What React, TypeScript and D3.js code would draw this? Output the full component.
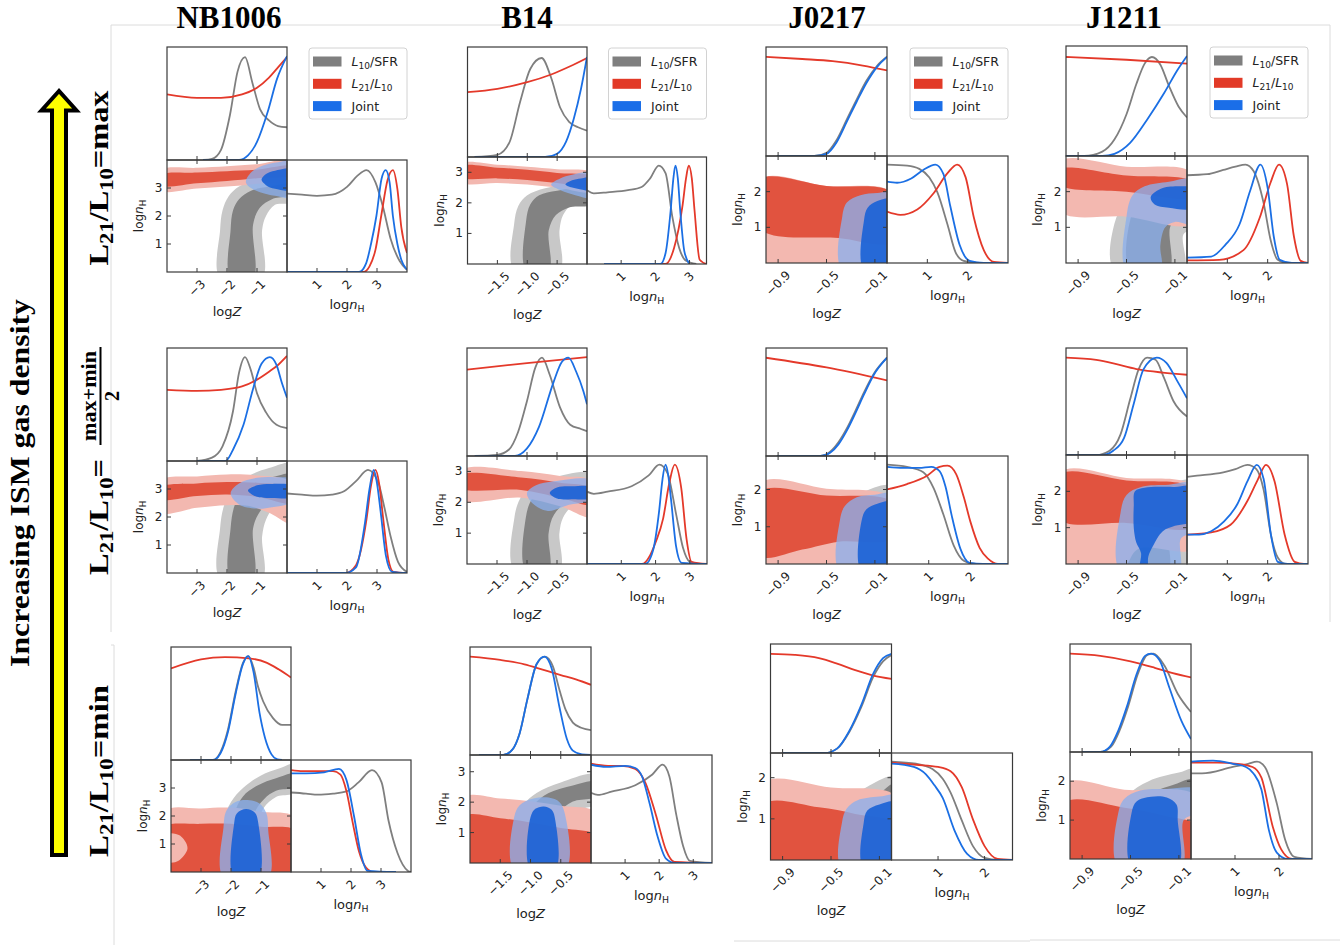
import React from 'react';
import * as d3 from 'd3';

type Pt = [number, number];
type Curves = { gray: Pt[]; red: Pt[]; blue: Pt[] };
type Regions = { gray2: Pt[]; gray1: Pt[]; red2: Pt[]; red1: Pt[]; blue2: Pt[]; blue1: Pt[] };

// ---------------- metadata ----------------
const galaxies = ['NB1006', 'B14', 'J0217', 'J1211'];
const logZDomains: Pt[] = [[-4, 0], [-2, 0], [-1, 0], [-1, 0]];
const logZTicks = [[-3, -2, -1], [-1.5, -1.0, -0.5], [-0.9, -0.5, -0.1], [-0.9, -0.5, -0.1]];
const nHTicks = [[1, 2, 3], [1, 2, 3], [1, 2], [1, 2]];
// upper lognH limit, rows (max, mid, min) x columns
const nHMax = [
  [4, 3.5, 3, 3],
  [4, 3.5, 2.9, 3],
  [4, 3.55, 2.6, 2.75],
];

// ---------------- NB1006, L21/L10 = max ----------------
const nbMaxZ: Curves = {
  gray: [[-2.8, 0], [-2.5, 0.01], [-2.2, 0.09], [-1.9, 0.4], [-1.65, 0.78], [-1.4, 0.91], [-1.15, 0.68], [-0.9, 0.45], [-0.6, 0.35], [-0.3, 0.3], [0, 0.29]],
  red: [[-4, 0.58], [-3, 0.55], [-2.2, 0.55], [-1.5, 0.58], [-1, 0.64], [-0.6, 0.73], [-0.3, 0.82], [0, 0.91]],
  blue: [[-2.8, 0], [-1.6, 0], [-1.3, 0.04], [-1.0, 0.16], [-0.65, 0.42], [-0.33, 0.72], [0, 0.92]],
};
const nbMaxN: Curves = {
  gray: [[0, 0.7], [0.5, 0.69], [1, 0.68], [1.5, 0.69], [2, 0.76], [2.35, 0.86], [2.65, 0.91], [2.95, 0.8], [3.2, 0.58], [3.45, 0.3], [3.75, 0.1], [4, 0.02]],
  red: [[0, 0], [2.55, 0], [2.75, 0.05], [2.95, 0.2], [3.14, 0.5], [3.35, 0.82], [3.53, 0.91], [3.68, 0.74], [3.81, 0.4], [4, 0.17]],
  blue: [[0, 0], [2.4, 0], [2.64, 0.08], [2.8, 0.25], [2.98, 0.5], [3.15, 0.83], [3.29, 0.91], [3.42, 0.8], [3.53, 0.5], [3.68, 0.25], [3.81, 0.11], [4, 0.02]],
};
const nbMaxC: Regions = {
  gray2: [[-2.23, -0.2], [-2.23, 1.5], [-2.15, 2.2], [-1.95, 2.7], [-1.6, 3.05], [-1.1, 3.25], [-0.5, 3.35], [0.2, 3.42], [0.2, 2.5], [-0.4, 2.4], [-0.7, 2.0], [-0.83, 1.5], [-0.83, -0.2]],
  gray1: [[-1.88, -0.2], [-1.88, 1.5], [-1.8, 2.2], [-1.6, 2.6], [-1.2, 2.9], [-0.6, 3.05], [0.2, 3.14], [0.2, 2.78], [-0.5, 2.6], [-0.9, 2.3], [-1.13, 1.7], [-1.13, -0.2]],
  red2: [[-4.2, 3.63], [-3, 3.72], [-2, 3.78], [-1, 3.85], [0.2, 3.97], [0.2, 3.3], [-1, 3.15], [-2, 3.05], [-3, 2.98], [-4.2, 2.92]],
  red1: [[-4.2, 3.46], [-3, 3.55], [-2, 3.6], [-1, 3.65], [0.2, 3.77], [0.2, 3.47], [-1, 3.35], [-2, 3.25], [-3, 3.17], [-4.2, 3.1]],
  blue2: [[-1.37, 3.2], [-1.2, 3.55], [-0.8, 3.8], [-0.3, 3.92], [0.2, 3.97], [0.2, 2.68], [-0.4, 2.72], [-0.9, 2.85], [-1.2, 3.0]],
  blue1: [[-0.85, 3.3], [-0.7, 3.5], [-0.4, 3.62], [0.2, 3.67], [0.2, 2.94], [-0.4, 2.97], [-0.7, 3.1]],
};

// ---------------- B14, max ----------------
const b14MaxZ: Curves = {
  gray: [[-1.88, 0], [-1.5, 0.02], [-1.3, 0.13], [-1.12, 0.5], [-0.95, 0.8], [-0.76, 0.9], [-0.6, 0.72], [-0.45, 0.45], [-0.3, 0.32], [-0.15, 0.27], [0, 0.24]],
  red: [[-2, 0.59], [-1.5, 0.62], [-1, 0.68], [-0.6, 0.75], [-0.3, 0.82], [0, 0.9]],
  blue: [[-1.88, 0], [-0.7, 0], [-0.5, 0.03], [-0.35, 0.14], [-0.22, 0.35], [-0.1, 0.62], [0, 0.91]],
};
const b14MaxN: Curves = {
  gray: [[0, 0.69], [0.2, 0.66], [0.6, 0.67], [1.2, 0.69], [1.6, 0.72], [1.85, 0.8], [2.1, 0.92], [2.3, 0.85], [2.5, 0.44], [2.7, 0.15], [2.9, 0.03], [3.2, 0]],
  red: [[0.5, 0], [2.3, 0], [2.55, 0.15], [2.8, 0.55], [2.9, 0.8], [2.98, 0.92], [3.07, 0.8], [3.15, 0.5], [3.3, 0.04], [3.5, 0]],
  blue: [[0.5, 0], [2.15, 0], [2.3, 0.1], [2.45, 0.5], [2.53, 0.8], [2.59, 0.92], [2.66, 0.8], [2.73, 0.5], [2.85, 0.12], [3.0, 0]],
};
const b14MaxC: Regions = {
  gray2: [[-1.22, -0.2], [-1.22, 1.3], [-1.15, 1.9], [-1.0, 2.25], [-0.7, 2.48], [-0.3, 2.6], [0.1, 2.64], [0.1, 2.12], [-0.25, 1.95], [-0.4, 1.6], [-0.46, 1.1], [-0.46, -0.2]],
  gray1: [[-1.02, -0.2], [-1.02, 1.4], [-0.95, 1.95], [-0.8, 2.25], [-0.5, 2.4], [0.1, 2.47], [0.1, 1.96], [-0.3, 1.85], [-0.52, 1.6], [-0.64, 1.1], [-0.64, -0.2]],
  red2: [[-2.1, 3.28], [-1.5, 3.25], [-1, 3.18], [-0.5, 3.1], [0.1, 2.98], [0.1, 2.38], [-0.5, 2.5], [-1, 2.6], [-1.5, 2.65], [-2.1, 2.68]],
  red1: [[-2.1, 3.19], [-1.5, 3.15], [-1, 3.08], [-0.5, 2.98], [0.1, 2.85], [0.1, 2.53], [-0.5, 2.65], [-1, 2.75], [-1.5, 2.8], [-2.1, 2.84]],
  blue2: [[-0.6, 2.6], [-0.45, 2.8], [-0.25, 2.92], [0.1, 2.97], [0.1, 2.18], [-0.25, 2.28], [-0.45, 2.42]],
  blue1: [[-0.36, 2.6], [-0.25, 2.74], [-0.1, 2.8], [0.1, 2.83], [0.1, 2.41], [-0.1, 2.44], [-0.25, 2.5]],
};

// ---------------- J0217, max ----------------
const j02MaxZ: Curves = {
  gray: [[-0.91, 0], [-0.6, 0], [-0.5, 0.03], [-0.42, 0.14], [-0.33, 0.34], [-0.25, 0.52], [-0.17, 0.69], [-0.08, 0.83], [0, 0.91]],
  red: [[-1, 0.91], [-0.7, 0.89], [-0.45, 0.87], [-0.2, 0.83], [0, 0.785]],
  blue: [[-0.91, 0], [-0.6, 0], [-0.5, 0.02], [-0.42, 0.12], [-0.33, 0.32], [-0.25, 0.5], [-0.17, 0.67], [-0.08, 0.82], [0, 0.91]],
};
const j02MaxN: Curves = {
  gray: [[0, 0.92], [0.5, 0.91], [0.8, 0.88], [1.05, 0.8], [1.25, 0.66], [1.5, 0.36], [1.7, 0.1], [1.9, 0.02], [2.3, 0], [3, 0]],
  red: [[0, 0.48], [0.33, 0.45], [0.75, 0.5], [1.15, 0.65], [1.5, 0.84], [1.74, 0.92], [1.95, 0.8], [2.15, 0.43], [2.4, 0.12], [2.65, 0.01], [3, 0]],
  blue: [[0, 0.76], [0.25, 0.75], [0.6, 0.79], [0.9, 0.87], [1.2, 0.92], [1.4, 0.83], [1.57, 0.53], [1.8, 0.17], [2.05, 0.02], [2.4, 0], [3, 0]],
};
const j02MaxC: Regions = {
  gray2: [[-0.39, -0.2], [-0.39, 1.4], [-0.35, 1.75], [-0.25, 1.92], [-0.1, 1.97], [0.05, 1.98], [0.05, -0.2]],
  gray1: [[-0.2, -0.2], [-0.2, 1.3], [-0.15, 1.65], [-0.05, 1.78], [0.05, 1.8], [0.05, -0.2]],
  red2: [[-1.05, 2.34], [-0.5, 2.16], [0.05, 1.95], [0.05, -0.2], [-1.05, -0.2]],
  red1: [[-1.05, 2.34], [-0.5, 2.16], [0.05, 1.95], [0.05, 0.6], [-0.4, 0.7], [-1.05, 0.96]],
  blue2: [[-0.37, -0.2], [-0.37, 1.3], [-0.33, 1.7], [-0.22, 1.9], [-0.08, 1.96], [0.05, 1.97], [0.05, -0.2]],
  blue1: [[-0.19, -0.2], [-0.19, 1.2], [-0.16, 1.55], [-0.08, 1.74], [0.05, 1.78], [0.05, -0.2]],
};

// ---------------- J1211, max ----------------
const j12MaxZ: Curves = {
  gray: [[-1, 0], [-0.85, 0], [-0.7, 0.04], [-0.6, 0.15], [-0.5, 0.38], [-0.42, 0.65], [-0.35, 0.84], [-0.29, 0.9], [-0.22, 0.83], [-0.15, 0.64], [-0.07, 0.45], [0, 0.35]],
  red: [[-1, 0.9], [-0.5, 0.875], [0, 0.84]],
  blue: [[-1, 0], [-0.7, 0], [-0.6, 0.02], [-0.47, 0.12], [-0.33, 0.33], [-0.19, 0.57], [-0.08, 0.78], [0, 0.91]],
};
const j12MaxN: Curves = {
  gray: [[0, 0.82], [0.5, 0.83], [0.9, 0.87], [1.2, 0.9], [1.45, 0.92], [1.65, 0.86], [1.9, 0.56], [2.07, 0.22], [2.25, 0.03], [2.5, 0], [3, 0]],
  red: [[0, 0.025], [0.8, 0.03], [1.4, 0.12], [1.8, 0.42], [2.07, 0.75], [2.28, 0.92], [2.48, 0.74], [2.65, 0.25], [2.82, 0.02], [3, 0]],
  blue: [[0, 0.05], [0.6, 0.06], [0.95, 0.17], [1.3, 0.36], [1.57, 0.68], [1.82, 0.92], [2.0, 0.7], [2.15, 0.25], [2.3, 0.03], [2.6, 0], [3, 0]],
};
const j12MaxC: Regions = {
  gray2: [[-0.6, -0.2], [-0.6, 1.1], [-0.5, 1.7], [-0.3, 2.05], [0.05, 2.2], [0.05, 1.0], [-0.03, 0.8], [-0.03, -0.2]],
  gray1: [[-0.47, -0.2], [-0.47, 1.2], [-0.4, 1.65], [-0.25, 1.9], [0.05, 2.0], [0.05, 1.5], [-0.08, 1.3], [-0.14, 1.0], [-0.15, -0.2]],
  red2: [[-1.05, 2.85], [-0.5, 2.7], [0.05, 2.51], [0.05, 1.11], [-0.5, 1.3], [-1.05, 1.45]],
  red1: [[-1.05, 2.62], [-0.5, 2.45], [0.05, 2.27], [0.05, 1.85], [-0.5, 2.0], [-1.05, 2.2]],
  blue2: [[-0.5, -0.2], [-0.5, 1.3], [-0.45, 1.9], [-0.35, 2.15], [-0.15, 2.28], [0.05, 2.33], [0.05, 1.1], [-0.1, 1.15], [-0.18, 1.0], [-0.22, 0.5], [-0.22, -0.2]],
  blue1: [[-0.3, 1.85], [-0.2, 2.1], [0, 2.15], [0.05, 2.15], [0.05, 1.55], [-0.15, 1.55], [-0.27, 1.65]],
};

// ---------------- NB1006, mid ----------------
const nbMidZ: Curves = {
  gray: [[-3.0, 0], [-2.5, 0.03], [-2.15, 0.13], [-1.8, 0.44], [-1.6, 0.78], [-1.4, 0.92], [-1.2, 0.8], [-1.0, 0.6], [-0.7, 0.43], [-0.35, 0.32], [0, 0.29]],
  red: [[-4, 0.63], [-3, 0.62], [-2.2, 0.63], [-1.5, 0.66], [-1, 0.72], [-0.6, 0.79], [-0.3, 0.85], [0, 0.93]],
  blue: [[-3.0, 0], [-2.05, 0], [-1.8, 0.1], [-1.45, 0.32], [-1.13, 0.64], [-0.85, 0.86], [-0.57, 0.92], [-0.35, 0.85], [-0.18, 0.7], [0, 0.56]],
};
const nbMidN: Curves = {
  gray: [[0, 0.71], [0.5, 0.7], [1.0, 0.69], [1.5, 0.7], [1.9, 0.73], [2.3, 0.82], [2.7, 0.92], [3.05, 0.8], [3.25, 0.58], [3.45, 0.33], [3.7, 0.1], [4, 0.01]],
  red: [[0, 0], [1.95, 0], [2.3, 0.07], [2.65, 0.48], [2.8, 0.78], [2.95, 0.92], [3.07, 0.8], [3.2, 0.5], [3.38, 0.12], [3.55, 0.01], [4, 0]],
  blue: [[0, 0], [1.95, 0], [2.3, 0.05], [2.6, 0.45], [2.75, 0.75], [2.89, 0.92], [3.0, 0.8], [3.12, 0.55], [3.3, 0.15], [3.5, 0.01], [4, 0]],
};
const nbMidC: Regions = {
  gray2: [[-2.23, -0.2], [-2.23, 1.6], [-2.1, 2.4], [-1.85, 2.95], [-1.3, 3.45], [-0.6, 3.75], [0.2, 3.9], [0.2, 2.55], [-0.45, 2.3], [-0.7, 1.9], [-0.83, 1.3], [-0.83, -0.2]],
  gray1: [[-1.88, -0.2], [-1.88, 1.6], [-1.75, 2.4], [-1.5, 2.9], [-1.0, 3.25], [-0.4, 3.45], [0.2, 3.53], [0.2, 2.85], [-0.5, 2.6], [-0.9, 2.2], [-1.13, 1.6], [-1.13, -0.2]],
  red2: [[-4.2, 3.3], [-3, 3.45], [-2, 3.52], [-1, 3.48], [0.2, 3.2], [0.2, 1.75], [-0.6, 2.15], [-1.3, 2.4], [-2, 2.42], [-3, 2.33], [-4.2, 2.17]],
  red1: [[-4.2, 3.06], [-3, 3.2], [-2, 3.25], [-1, 3.22], [0.2, 3.03], [0.2, 2.5], [-1, 2.72], [-2, 2.8], [-3, 2.75], [-4.2, 2.65]],
  blue2: [[-1.88, 2.85], [-1.6, 3.2], [-1.0, 3.4], [-0.4, 3.42], [0.2, 3.33], [0.2, 2.58], [-0.5, 2.35], [-1.0, 2.3], [-1.6, 2.45]],
  blue1: [[-1.3, 2.95], [-1.0, 3.13], [-0.5, 3.18], [0.2, 3.1], [0.2, 2.72], [-0.5, 2.68], [-1.0, 2.72]],
};

// ---------------- B14, mid ----------------
const b14MidZ: Curves = {
  gray: [[-1.87, 0], [-1.5, 0.01], [-1.3, 0.06], [-1.15, 0.22], [-1.0, 0.51], [-0.86, 0.82], [-0.75, 0.91], [-0.62, 0.75], [-0.45, 0.45], [-0.28, 0.29], [-0.1, 0.25], [0, 0.23]],
  red: [[-2, 0.8], [-1, 0.86], [0, 0.915]],
  blue: [[-1.87, 0], [-1.2, 0], [-1.0, 0.07], [-0.8, 0.27], [-0.56, 0.68], [-0.42, 0.87], [-0.31, 0.91], [-0.18, 0.78], [-0.06, 0.6], [0, 0.48]],
};
const b14MidN: Curves = {
  gray: [[0, 0.67], [0.2, 0.65], [0.6, 0.67], [1.3, 0.72], [1.8, 0.82], [2.11, 0.92], [2.35, 0.84], [2.6, 0.46], [2.8, 0.15], [3.0, 0.02], [3.3, 0], [3.5, 0]],
  red: [[0, 0], [1.6, 0], [1.84, 0.08], [2.0, 0.2], [2.22, 0.42], [2.4, 0.75], [2.56, 0.92], [2.75, 0.7], [2.9, 0.24], [3.05, 0.02], [3.5, 0]],
  blue: [[0, 0], [1.7, 0], [1.93, 0.13], [2.1, 0.48], [2.2, 0.78], [2.29, 0.92], [2.37, 0.82], [2.45, 0.6], [2.6, 0.16], [2.76, 0.01], [3.5, 0]],
};
const b14MidC: Regions = {
  gray2: [[-1.21, -0.2], [-1.21, 1.5], [-1.12, 2.1], [-0.95, 2.5], [-0.6, 2.78], [0.1, 2.92], [0.1, 1.98], [-0.25, 1.85], [-0.4, 1.5], [-0.46, 1.0], [-0.46, -0.2]],
  gray1: [[-1.02, -0.2], [-1.02, 1.5], [-0.92, 2.1], [-0.75, 2.4], [-0.4, 2.6], [0.1, 2.7], [0.1, 2.2], [-0.3, 2.05], [-0.55, 1.6], [-0.64, 1.0], [-0.64, -0.2]],
  red2: [[-2.1, 3.03], [-1.1, 3.01], [-0.45, 2.85], [0.1, 2.67], [0.1, 1.52], [-0.45, 1.87], [-1.1, 2.15], [-2.1, 2.09]],
  red1: [[-2.1, 2.88], [-1.1, 2.8], [-0.45, 2.63], [0.1, 2.43], [0.1, 1.93], [-0.45, 2.15], [-1.1, 2.4], [-2.1, 2.47]],
  blue2: [[-1.0, 2.3], [-0.85, 2.55], [-0.55, 2.68], [0.1, 2.7], [0.1, 2.1], [-0.3, 1.92], [-0.65, 1.72], [-0.9, 1.95]],
  blue1: [[-0.62, 2.3], [-0.5, 2.48], [-0.25, 2.52], [0.1, 2.48], [0.1, 2.15], [-0.25, 2.1], [-0.5, 2.12]],
};

// ---------------- J0217, mid ----------------
const j02MidZ: Curves = {
  gray: [[-0.91, 0], [-0.55, 0], [-0.47, 0.04], [-0.4, 0.13], [-0.33, 0.26], [-0.26, 0.42], [-0.19, 0.59], [-0.11, 0.76], [0, 0.91]],
  red: [[-1, 0.91], [-0.5, 0.82], [0, 0.7]],
  blue: [[-0.91, 0], [-0.55, 0], [-0.47, 0.03], [-0.4, 0.11], [-0.33, 0.24], [-0.26, 0.4], [-0.19, 0.57], [-0.11, 0.75], [0, 0.91]],
};
const j02MidN: Curves = {
  gray: [[0, 0.92], [0.48, 0.9], [0.87, 0.85], [1.12, 0.7], [1.35, 0.46], [1.6, 0.17], [1.84, 0.03], [2.13, 0], [2.9, 0]],
  red: [[0, 0.69], [0.48, 0.74], [0.97, 0.82], [1.26, 0.9], [1.45, 0.91], [1.66, 0.83], [1.84, 0.62], [2.0, 0.39], [2.22, 0.15], [2.42, 0.05], [2.66, 0], [2.9, 0]],
  blue: [[0, 0.9], [0.39, 0.89], [0.77, 0.89], [1.06, 0.9], [1.26, 0.86], [1.4, 0.72], [1.55, 0.45], [1.76, 0.14], [1.98, 0.01], [2.3, 0], [2.9, 0]],
};
const j02MidC: Regions = {
  gray2: [[-0.39, -0.2], [-0.39, 1.35], [-0.33, 1.7], [-0.2, 1.93], [0.05, 2.08], [0.05, -0.2]],
  gray1: [[-0.2, -0.2], [-0.2, 1.25], [-0.12, 1.55], [0.05, 1.64], [0.05, -0.2]],
  red2: [[-1.05, 2.17], [-0.5, 2.02], [0.05, 1.74], [0.05, -0.2], [-1.05, -0.2]],
  red1: [[-1.05, 1.94], [-0.5, 1.84], [0.05, 1.65], [0.05, 0.7], [-0.4, 0.6], [-0.7, 0.39], [-1.05, 0.22]],
  blue2: [[-0.39, -0.2], [-0.39, 1.16], [-0.35, 1.55], [-0.25, 1.79], [-0.1, 1.86], [0.05, 1.87], [0.05, -0.2]],
  blue1: [[-0.21, -0.2], [-0.21, 1.16], [-0.17, 1.47], [-0.08, 1.62], [0.05, 1.66], [0.05, -0.2]],
};

// ---------------- J1211, mid ----------------
const j12MidZ: Curves = {
  gray: [[-1, 0], [-0.75, 0], [-0.64, 0.04], [-0.55, 0.19], [-0.47, 0.52], [-0.4, 0.8], [-0.33, 0.91], [-0.26, 0.89], [-0.19, 0.72], [-0.11, 0.5], [0, 0.36]],
  red: [[-1, 0.91], [-0.75, 0.89], [-0.55, 0.84], [-0.4, 0.8], [-0.2, 0.77], [0, 0.75]],
  blue: [[-1, 0], [-0.7, 0], [-0.61, 0.04], [-0.52, 0.16], [-0.44, 0.48], [-0.36, 0.8], [-0.25, 0.91], [-0.17, 0.86], [-0.08, 0.69], [0, 0.53]],
};
const j12MidN: Curves = {
  gray: [[0, 0.8], [0.25, 0.81], [0.9, 0.84], [1.2, 0.87], [1.5, 0.91], [1.72, 0.87], [1.9, 0.68], [2.08, 0.27], [2.25, 0.06], [2.45, 0], [3, 0]],
  red: [[0, 0.27], [0.6, 0.29], [1.08, 0.36], [1.5, 0.58], [1.75, 0.77], [1.96, 0.91], [2.17, 0.76], [2.42, 0.27], [2.67, 0.02], [2.9, 0], [3, 0]],
  blue: [[0, 0.27], [0.3, 0.27], [0.6, 0.3], [0.92, 0.39], [1.25, 0.55], [1.5, 0.76], [1.73, 0.91], [1.9, 0.78], [2.08, 0.27], [2.25, 0.02], [2.5, 0], [3, 0]],
};
const j12MidC: Regions = {
  gray2: [[-0.57, -0.2], [-0.57, 1.1], [-0.5, 1.6], [-0.35, 1.95], [-0.15, 2.2], [0.05, 2.3], [0.05, 1.2], [-0.02, 1.0], [-0.03, -0.2]],
  gray1: [[-0.5, -0.2], [-0.5, 1.2], [-0.42, 1.65], [-0.25, 1.95], [0.05, 2.08], [0.05, 1.4], [-0.1, 1.2], [-0.15, 0.8], [-0.16, -0.2]],
  red2: [[-1.05, 2.52], [-0.5, 2.37], [0.05, 2.13], [0.05, 0.42], [-0.4, 0.42], [-0.55, -0.2], [-1.05, -0.2]],
  red1: [[-1.05, 2.46], [-0.5, 2.3], [0.05, 2.07], [0.05, 1.03], [-0.5, 1.13], [-1.05, 1.23]],
  blue2: [[-0.55, -0.2], [-0.55, 1.4], [-0.5, 1.9], [-0.38, 2.12], [-0.15, 2.18], [0.05, 2.2], [0.05, 0.9], [-0.05, 0.7], [-0.07, -0.2]],
  blue1: [[-0.43, 2.0], [-0.35, 2.1], [-0.1, 2.12], [0.05, 2.12], [0.05, 1.2], [-0.1, 1.05], [-0.2, 0.9], [-0.28, 0.5], [-0.32, 0.2], [-0.33, -0.2], [-0.39, -0.2], [-0.38, 0.3], [-0.42, 0.6], [-0.44, 1.0], [-0.44, 1.6]],
};

// ---------------- NB1006, min ----------------
const nbMinZ: Curves = {
  gray: [[-3.36, 0], [-2.6, 0], [-2.35, 0.07], [-2.1, 0.27], [-1.85, 0.6], [-1.6, 0.86], [-1.42, 0.92], [-1.25, 0.82], [-1.1, 0.65], [-0.93, 0.52], [-0.6, 0.37], [-0.3, 0.31], [0, 0.31]],
  red: [[-4, 0.81], [-3, 0.89], [-2.2, 0.91], [-1.4, 0.9], [-0.8, 0.86], [-0.4, 0.8], [0, 0.73]],
  blue: [[-3.36, 0], [-2.6, 0], [-2.35, 0.06], [-2.1, 0.25], [-1.85, 0.58], [-1.6, 0.85], [-1.43, 0.92], [-1.25, 0.78], [-1.05, 0.42], [-0.87, 0.2], [-0.65, 0.05], [-0.45, 0.005], [-0.3, 0]],
};
const nbMinN: Curves = {
  gray: [[0, 0.71], [0.5, 0.7], [0.9, 0.69], [1.4, 0.7], [1.85, 0.72], [2.25, 0.8], [2.7, 0.91], [3.02, 0.8], [3.25, 0.46], [3.55, 0.17], [3.9, 0.01], [4, 0]],
  red: [[0, 0.91], [0.4, 0.9], [0.9, 0.9], [1.4, 0.9], [1.65, 0.87], [1.85, 0.72], [2.05, 0.45], [2.27, 0.18], [2.5, 0.04], [2.75, 0], [3.3, 0]],
  blue: [[0, 0.88], [0.5, 0.88], [1.1, 0.89], [1.6, 0.92], [1.85, 0.82], [2.1, 0.5], [2.33, 0.16], [2.55, 0.01], [3.5, 0]],
};
const nbMinC: Regions = {
  gray2: [[-2.25, -0.2], [-2.25, 1.8], [-2.0, 2.5], [-1.6, 3.0], [-1.0, 3.45], [-0.4, 3.7], [0.2, 3.87], [0.2, 2.87], [-0.5, 2.68], [-0.9, 2.3], [-1.05, 1.8], [-1.05, -0.2]],
  gray1: [[-1.9, -0.2], [-1.9, 2.0], [-1.6, 2.7], [-1.1, 3.1], [-0.5, 3.35], [0.2, 3.52], [0.2, 3.05], [-0.5, 2.9], [-0.9, 2.6], [-1.25, 2.0], [-1.3, -0.2]],
  red2: [[-4.2, 2.17], [-3, 2.27], [-2, 2.3], [-1, 2.15], [0.2, 1.92], [0.2, -0.2], [-4.2, -0.2]],
  red1: [[-4.2, 1.65], [-3, 1.72], [-2, 1.72], [-1, 1.62], [0.2, 1.45], [0.2, -0.2], [-4.2, -0.2], [-4.2, 0.25], [-3.75, 0.4], [-3.45, 0.85], [-3.7, 1.3], [-4.2, 1.45]],
  blue2: [[-2.25, -0.2], [-2.25, 1.6], [-2.15, 2.2], [-1.85, 2.5], [-1.45, 2.57], [-1.05, 2.45], [-0.82, 2.1], [-0.76, 1.5], [-0.76, -0.2]],
  blue1: [[-1.9, -0.2], [-1.9, 1.7], [-1.8, 2.1], [-1.5, 2.25], [-1.2, 2.12], [-1.1, 1.8], [-1.09, -0.2]],
};

// ---------------- B14, min ----------------
const b14MinZ: Curves = {
  gray: [[-1.85, 0], [-1.45, 0], [-1.3, 0.05], [-1.18, 0.2], [-1.05, 0.52], [-0.9, 0.84], [-0.76, 0.91], [-0.63, 0.82], [-0.52, 0.6], [-0.42, 0.42], [-0.3, 0.3], [-0.15, 0.25], [0, 0.23]],
  red: [[-2, 0.91], [-1.5, 0.88], [-1.1, 0.84], [-0.8, 0.79], [-0.5, 0.74], [-0.25, 0.7], [0, 0.65]],
  blue: [[-1.85, 0], [-1.45, 0], [-1.3, 0.05], [-1.18, 0.2], [-1.05, 0.52], [-0.9, 0.84], [-0.77, 0.91], [-0.65, 0.8], [-0.52, 0.44], [-0.4, 0.15], [-0.3, 0.04], [-0.15, 0.005], [0, 0]],
};
const b14MinN: Curves = {
  gray: [[0, 0.65], [0.2, 0.63], [0.6, 0.66], [1.3, 0.72], [1.8, 0.82], [2.1, 0.91], [2.3, 0.8], [2.5, 0.45], [2.7, 0.16], [2.9, 0.02], [3.55, 0]],
  red: [[0, 0.92], [0.5, 0.9], [0.9, 0.9], [1.3, 0.87], [1.6, 0.74], [1.9, 0.45], [2.2, 0.12], [2.45, 0.01], [3.55, 0]],
  blue: [[0, 0.91], [0.45, 0.89], [1.0, 0.9], [1.3, 0.88], [1.5, 0.8], [1.72, 0.55], [1.95, 0.25], [2.2, 0.04], [2.45, 0], [3.55, 0]],
};
const b14MinC: Regions = {
  gray2: [[-1.25, -0.2], [-1.25, 1.3], [-1.12, 1.9], [-0.9, 2.3], [-0.5, 2.65], [0.1, 2.9], [0.1, 1.96], [-0.25, 1.72], [-0.42, 1.3], [-0.46, -0.2]],
  gray1: [[-1.05, -0.2], [-1.05, 1.4], [-0.95, 1.9], [-0.7, 2.3], [-0.3, 2.55], [0.1, 2.67], [0.1, 2.2], [-0.3, 2.02], [-0.55, 1.6], [-0.62, 1.0], [-0.62, -0.2]],
  red2: [[-2.1, 2.14], [-1.5, 2.12], [-1, 2.03], [-0.5, 1.88], [0.1, 1.63], [0.1, -0.2], [-2.1, -0.2]],
  red1: [[-2.1, 1.52], [-1.5, 1.47], [-1, 1.33], [-0.5, 1.15], [0.1, 0.88], [0.1, -0.2], [-2.1, -0.2]],
  blue2: [[-1.27, -0.2], [-1.27, 1.5], [-1.18, 1.9], [-0.95, 2.12], [-0.7, 2.15], [-0.52, 2.0], [-0.43, 1.6], [-0.42, -0.2]],
  blue1: [[-1.0, -0.2], [-1.0, 1.5], [-0.92, 1.78], [-0.78, 1.86], [-0.65, 1.75], [-0.59, 1.4], [-0.59, -0.2]],
};

// ---------------- J0217, min ----------------
const j02MinZ: Curves = {
  gray: [[-0.9, 0], [-0.55, 0], [-0.45, 0.04], [-0.35, 0.19], [-0.25, 0.42], [-0.15, 0.7], [-0.07, 0.84], [0, 0.9]],
  red: [[-1, 0.91], [-0.8, 0.9], [-0.6, 0.87], [-0.45, 0.82], [-0.3, 0.76], [-0.15, 0.71], [0, 0.68]],
  blue: [[-0.9, 0], [-0.55, 0], [-0.45, 0.04], [-0.35, 0.2], [-0.25, 0.44], [-0.15, 0.73], [-0.07, 0.87], [0, 0.91]],
};
const j02MinN: Curves = {
  gray: [[0, 0.92], [0.53, 0.9], [0.88, 0.85], [1.1, 0.76], [1.27, 0.63], [1.51, 0.37], [1.75, 0.13], [2.0, 0.02], [2.3, 0], [2.6, 0]],
  red: [[0, 0.91], [0.53, 0.89], [1.0, 0.87], [1.27, 0.83], [1.51, 0.68], [1.75, 0.38], [2.0, 0.13], [2.28, 0.01], [2.6, 0]],
  blue: [[0, 0.9], [0.48, 0.87], [0.74, 0.8], [0.92, 0.7], [1.1, 0.58], [1.35, 0.28], [1.62, 0.06], [1.88, 0], [2.6, 0]],
};
const j02MinC: Regions = {
  gray2: [[-0.4, -0.2], [-0.4, 1.2], [-0.33, 1.5], [-0.2, 1.78], [0.05, 2.02], [0.05, -0.2]],
  gray1: [[-0.15, -0.2], [-0.15, 1.3], [-0.08, 1.65], [0.05, 1.88], [0.05, -0.2]],
  red2: [[-1.05, 1.88], [-0.5, 1.76], [0.05, 1.52], [0.05, -0.2], [-1.05, -0.2]],
  red1: [[-1.05, 1.36], [-0.6, 1.28], [-0.3, 1.12], [0.05, 0.85], [0.05, -0.2], [-1.05, -0.2]],
  blue2: [[-0.41, -0.2], [-0.41, 0.9], [-0.37, 1.25], [-0.28, 1.45], [-0.1, 1.54], [0.05, 1.56], [0.05, -0.2]],
  blue1: [[-0.23, -0.2], [-0.23, 0.9], [-0.2, 1.2], [-0.1, 1.35], [0.05, 1.4], [0.05, -0.2]],
};

// ---------------- J1211, min ----------------
const j12MinZ: Curves = {
  gray: [[-0.9, 0], [-0.75, 0], [-0.66, 0.05], [-0.59, 0.2], [-0.52, 0.42], [-0.44, 0.72], [-0.36, 0.9], [-0.31, 0.91], [-0.22, 0.8], [-0.11, 0.54], [0, 0.37]],
  red: [[-1, 0.91], [-0.75, 0.89], [-0.5, 0.84], [-0.3, 0.78], [-0.15, 0.73], [0, 0.69]],
  blue: [[-0.9, 0], [-0.75, 0], [-0.67, 0.05], [-0.6, 0.2], [-0.53, 0.42], [-0.45, 0.72], [-0.38, 0.89], [-0.33, 0.91], [-0.26, 0.85], [-0.18, 0.6], [-0.08, 0.29], [0, 0.12]],
};
const j12MinN: Curves = {
  gray: [[0, 0.8], [0.25, 0.8], [0.95, 0.86], [1.3, 0.89], [1.5, 0.91], [1.68, 0.86], [1.95, 0.52], [2.14, 0.18], [2.35, 0.02], [2.75, 0]],
  red: [[0, 0.9], [0.6, 0.9], [1.05, 0.89], [1.4, 0.86], [1.6, 0.76], [1.86, 0.3], [2.05, 0.09], [2.3, 0], [2.75, 0]],
  blue: [[0, 0.91], [0.5, 0.92], [0.95, 0.89], [1.25, 0.86], [1.42, 0.8], [1.6, 0.65], [1.77, 0.27], [1.95, 0.06], [2.2, 0], [2.75, 0]],
};
const j12MinC: Regions = {
  gray2: [[-0.6, -0.2], [-0.6, 1.2], [-0.52, 1.65], [-0.35, 2.0], [-0.1, 2.22], [0.05, 2.3], [0.05, -0.2]],
  gray1: [[-0.45, -0.2], [-0.45, 1.3], [-0.35, 1.65], [-0.15, 1.9], [0.05, 2.03], [0.05, -0.2]],
  red2: [[-1.05, 1.93], [-0.55, 1.78], [0.05, 1.6], [0.05, -0.2], [-1.05, -0.2]],
  red1: [[-1.05, 1.44], [-0.55, 1.32], [-0.2, 1.1], [0.05, 0.85], [0.05, -0.2], [-1.05, -0.2]],
  blue2: [[-0.6, -0.2], [-0.6, 1.2], [-0.55, 1.55], [-0.42, 1.76], [-0.2, 1.8], [0.05, 1.78], [0.05, 1.2], [-0.06, 1.0], [-0.08, -0.2]],
  blue1: [[-0.49, -0.2], [-0.49, 1.2], [-0.45, 1.48], [-0.33, 1.6], [-0.2, 1.58], [-0.12, 1.4], [-0.11, 1.0], [-0.11, -0.2]],
};

const logZCurves = [
  [nbMaxZ, b14MaxZ, j02MaxZ, j12MaxZ],
  [nbMidZ, b14MidZ, j02MidZ, j12MidZ],
  [nbMinZ, b14MinZ, j02MinZ, j12MinZ],
];
const nHCurves = [
  [nbMaxN, b14MaxN, j02MaxN, j12MaxN],
  [nbMidN, b14MidN, j02MidN, j12MidN],
  [nbMinN, b14MinN, j02MinN, j12MinN],
];
const contours = [
  [nbMaxC, b14MaxC, j02MaxC, j12MaxC],
  [nbMidC, b14MidC, j02MidC, j12MidC],
  [nbMinC, b14MinC, j02MinC, j12MinC],
];

// ---------------- layout (page pixels) ----------------
// [left, top, panel width, top-panel height, lower-panel height]
const boxes = [
  [[167, 47, 120, 113, 112], [467.5, 47, 119.5, 110, 107], [766, 47, 121, 109, 107], [1066, 46, 121, 110, 107]],
  [[167, 348, 120, 113, 112], [467, 348, 120, 108, 108], [766, 348, 121, 108, 108], [1066, 348, 121, 107, 109]],
  [[171, 647, 120, 113, 112], [470, 647, 121, 108, 108], [770.5, 644, 121, 109, 107], [1070, 644, 121, 108, 107]],
];
const titleX = [229, 527, 827, 1124];

const LINE = { gray: '#7f7f7f', red: '#e4392a', blue: '#1b6fe4' };
const FILL: Record<keyof Regions, string> = {
  gray2: '#c8c8c8', gray1: '#828282',
  red2: '#f3b8b0', red1: '#e1533f',
  blue2: 'rgba(140,176,236,0.78)', blue1: 'rgba(24,98,214,0.9)',
};
const SANS = 'DejaVu Sans, sans-serif';
const SERIF = 'Liberation Serif, Times New Roman, serif';
const FRAME = '#3a3a3a';

const fmtZ = [d3.format('.0f'), d3.format('.1f'), d3.format('.1f'), d3.format('.1f')];
const textW = (s: string) => Array.from(s).reduce((a, ch) => a + (ch === '\u2212' ? 10 : ch === '.' ? 3.8 : 7.6), 0);

const LognH = () => (
  <>log<tspan fontStyle="italic">n</tspan><tspan fontSize="72%" dy="3">H</tspan></>
);

function RotLabel({ x, yb, s }: { x: number; yb: number; s: string }) {
  const ext = (textW(s) + 8.5) * 0.7071;
  return (
    <text transform={`translate(${x},${yb + 7 + ext / 2}) rotate(-45)`} textAnchor="middle"
      dominantBaseline="central" fontSize={12} fontFamily={SANS} fill="#222">{s}</text>
  );
}

function Legend({ x, y }: { x: number; y: number }) {
  const rows = [LINE.gray, '#e23a27', '#1a6ee8'];
  return (
    <g>
      <rect x={x} y={y} width={98} height={71} rx={3} fill="#fff" stroke="#d2d2d2" />
      {rows.map((c, i) => (
        <rect key={i} x={x + 4} y={y + 8.5 + i * 22.3} width={28.5} height={10} fill={c} />
      ))}
      <g fontFamily={SANS} fontSize={12.5} fill="#222">
        <text x={x + 42.5} y={y + 18}><tspan fontStyle="italic">L</tspan><tspan fontSize="72%" dy="3">10</tspan><tspan dy="-3">/SFR</tspan></text>
        <text x={x + 42.5} y={y + 40.3}><tspan fontStyle="italic">L</tspan><tspan fontSize="72%" dy="3">21</tspan><tspan dy="-3">/</tspan><tspan fontStyle="italic">L</tspan><tspan fontSize="72%" dy="3">10</tspan></text>
        <text x={x + 42.5} y={y + 62.6}>Joint</text>
      </g>
    </g>
  );
}

function Corner({ r, c }: { r: number; c: number }) {
  const [x0, y0, w, h1, h2] = boxes[r][c];
  const zc = logZCurves[r][c];
  const nc = nHCurves[r][c];
  const ct = contours[r][c];
  const nDom: Pt = [0, nHMax[r][c]];
  const yMid = y0 + h1;
  const yb = yMid + h2;

  const sx = d3.scaleLinear().domain(logZDomains[c]).range([x0, x0 + w]);
  const sTop = d3.scaleLinear().domain([0, 1]).range([yMid, y0]);
  const sy = d3.scaleLinear().domain(nDom).range([yb, yMid]);
  const sxR = d3.scaleLinear().domain(nDom).range([x0 + w, x0 + 2 * w]);
  const sR = d3.scaleLinear().domain([0, 1]).range([yb, yMid]);

  const lineTop = d3.line<Pt>().x(d => sx(d[0])).y(d => sTop(d[1])).curve(d3.curveMonotoneX);
  const lineR = d3.line<Pt>().x(d => sxR(d[0])).y(d => sR(d[1])).curve(d3.curveMonotoneX);
  const region = d3.line<Pt>().x(d => sx(d[0])).y(d => sy(d[1])).curve(d3.curveCatmullRomClosed.alpha(0.5));

  const id = `cp${r}${c}`;
  const order: (keyof Regions)[] = ['gray2', 'gray1', 'red2', 'red1', 'blue2', 'blue1'];
  const curveOrder: (keyof Curves)[] = ['gray', 'red', 'blue'];
  const zt = logZTicks[c];
  const nt = nHTicks[c];
  const T = 4;

  return (
    <g>
      <defs>
        <clipPath id={`${id}t`}><rect x={x0} y={y0} width={w} height={h1} /></clipPath>
        <clipPath id={`${id}m`}><rect x={x0} y={yMid} width={w} height={h2} /></clipPath>
        <clipPath id={`${id}r`}><rect x={x0 + w} y={yMid} width={w} height={h2} /></clipPath>
      </defs>

      {/* 2D credible regions */}
      <g clipPath={`url(#${id}m)`}>
        {order.map(k => <path key={k} d={region(ct[k]) || ''} fill={FILL[k]} />)}
      </g>

      {/* 1D logZ */}
      <g clipPath={`url(#${id}t)`} fill="none" strokeWidth={1.8}>
        {curveOrder.map(k => <path key={k} d={lineTop(zc[k]) || ''} stroke={LINE[k]} />)}
      </g>

      {/* 1D lognH */}
      <g clipPath={`url(#${id}r)`} fill="none" strokeWidth={1.8}>
        {curveOrder.map(k => <path key={k} d={lineR(nc[k]) || ''} stroke={LINE[k]} />)}
      </g>

      {/* frames */}
      <g fill="none" stroke={FRAME} strokeWidth={1.2}>
        <rect x={x0} y={y0} width={w} height={h1} />
        <rect x={x0} y={yMid} width={w} height={h2} />
        <rect x={x0 + w} y={yMid} width={w} height={h2} />
      </g>

      {/* inward ticks */}
      <g stroke={FRAME} strokeWidth={1}>
        {zt.map(t => (
          <g key={`z${t}`}>
            <line x1={sx(t)} x2={sx(t)} y1={yMid} y2={yMid - T} />
            <line x1={sx(t)} x2={sx(t)} y1={yMid} y2={yMid + T} />
            <line x1={sx(t)} x2={sx(t)} y1={yb} y2={yb - T} />
          </g>
        ))}
        {nt.map(t => (
          <g key={`n${t}`}>
            <line x1={x0} x2={x0 + T} y1={sy(t)} y2={sy(t)} />
            <line x1={x0 + w} x2={x0 + w - T} y1={sy(t)} y2={sy(t)} />
            <line x1={sxR(t)} x2={sxR(t)} y1={yb} y2={yb - T} />
          </g>
        ))}
      </g>

      {/* tick labels */}
      {zt.map(t => <RotLabel key={`lz${t}`} x={sx(t)} yb={yb} s={fmtZ[c](t)} />)}
      {nt.map(t => <RotLabel key={`ln${t}`} x={sxR(t)} yb={yb} s={String(t)} />)}
      {nt.map(t => (
        <text key={`ly${t}`} x={x0 - 4.5} y={sy(t)} textAnchor="end" dominantBaseline="central"
          fontSize={12} fontFamily={SANS} fill="#222">{t}</text>
      ))}

      {/* axis labels */}
      <g fontFamily={SANS} fill="#222">
        <text x={x0 + w / 2} y={yb + (c === 0 ? 44 : 55)} textAnchor="middle" fontSize={13}>
          log<tspan fontStyle="italic">Z</tspan>
        </text>
        <text x={x0 + 1.5 * w} y={yb + 37} textAnchor="middle" fontSize={13}><LognH /></text>
        <text transform={`translate(${x0 - 24},${yMid + h2 / 2}) rotate(-90)`} textAnchor="middle" fontSize={12}>
          <LognH />
        </text>
      </g>

      {r === 0 && <Legend x={x0 + 2 * w - 98} y={y0 + 1} />}
    </g>
  );
}

// "L21/L10=" with subscripts, followed by a tail string
function RatioText({ tail, fs }: { tail: string; fs: number }) {
  const sub = fs * 0.7;
  const d = fs * 0.2;
  return (
    <>
      L<tspan fontSize={sub} dy={d}>21</tspan>
      <tspan dy={-d}>/L</tspan>
      <tspan fontSize={sub} dy={d}>10</tspan>
      <tspan dy={-d}>{'=' + tail}</tspan>
    </>
  );
}

function SideLabels() {
  const fs = 27;
  return (
    <g fontFamily={SERIF} fontWeight="bold" fill="#000">
      {/* arrow */}
      <path d="M59,91 L41.5,110.5 L52,110.5 L52,855 L66,855 L66,110.5 L76.5,110.5 Z"
        fill="#ffff00" stroke="#000" strokeWidth={4} strokeLinejoin="miter" />
      <text transform="translate(29,483) rotate(-90)" textAnchor="middle" fontSize={fs}
        textLength={368} lengthAdjust="spacingAndGlyphs">Increasing ISM gas density</text>

      <text transform="translate(108,178) rotate(-90)" textAnchor="middle" fontSize={fs}
        textLength={175} lengthAdjust="spacingAndGlyphs">
        <RatioText tail="max" fs={fs} />
      </text>

      <text transform="translate(108,517) rotate(-90)" textAnchor="middle" fontSize={fs}
        textLength={116} lengthAdjust="spacingAndGlyphs">
        <RatioText tail="" fs={fs} />
      </text>
      <text transform="translate(96,396) rotate(-90)" textAnchor="middle" fontSize={20}
        textLength={90} lengthAdjust="spacingAndGlyphs">max+min</text>
      <line x1={100.5} x2={100.5} y1={347} y2={445} stroke="#000" strokeWidth={2} />
      <text transform="translate(119,396) rotate(-90)" textAnchor="middle" fontSize={20}>2</text>

      <text transform="translate(108,771) rotate(-90)" textAnchor="middle" fontSize={fs}
        textLength={172} lengthAdjust="spacingAndGlyphs">
        <RatioText tail="min" fs={fs} />
      </text>
    </g>
  );
}

export default function App() {
  return (
    <svg width={1343} height={945} viewBox="0 0 1343 945"
      style={{ position: 'absolute', left: 0, top: 0, background: '#fff' }}>
      <rect width={1343} height={945} fill="#fff" />
      {/* faint borders of the pasted sub-figures */}
      <g fill="none" stroke="#dcdcdc" strokeWidth={1}>
        <path d="M111,632 V25 H1330 V622" />
        <path d="M111,645 H114 V945" />
        <path d="M734,941 H1030" />
        <path d="M1030,940 H1340" />
      </g>
      {galaxies.map((g, i) => (
        <text key={g} x={titleX[i]} y={28} textAnchor="middle" fontFamily={SERIF}
          fontWeight="bold" fontSize={31}>{g}</text>
      ))}
      <SideLabels />
      {boxes.map((row, r) => row.map((_, c) => <Corner key={`${r}-${c}`} r={r} c={c} />))}
    </svg>
  );
}
